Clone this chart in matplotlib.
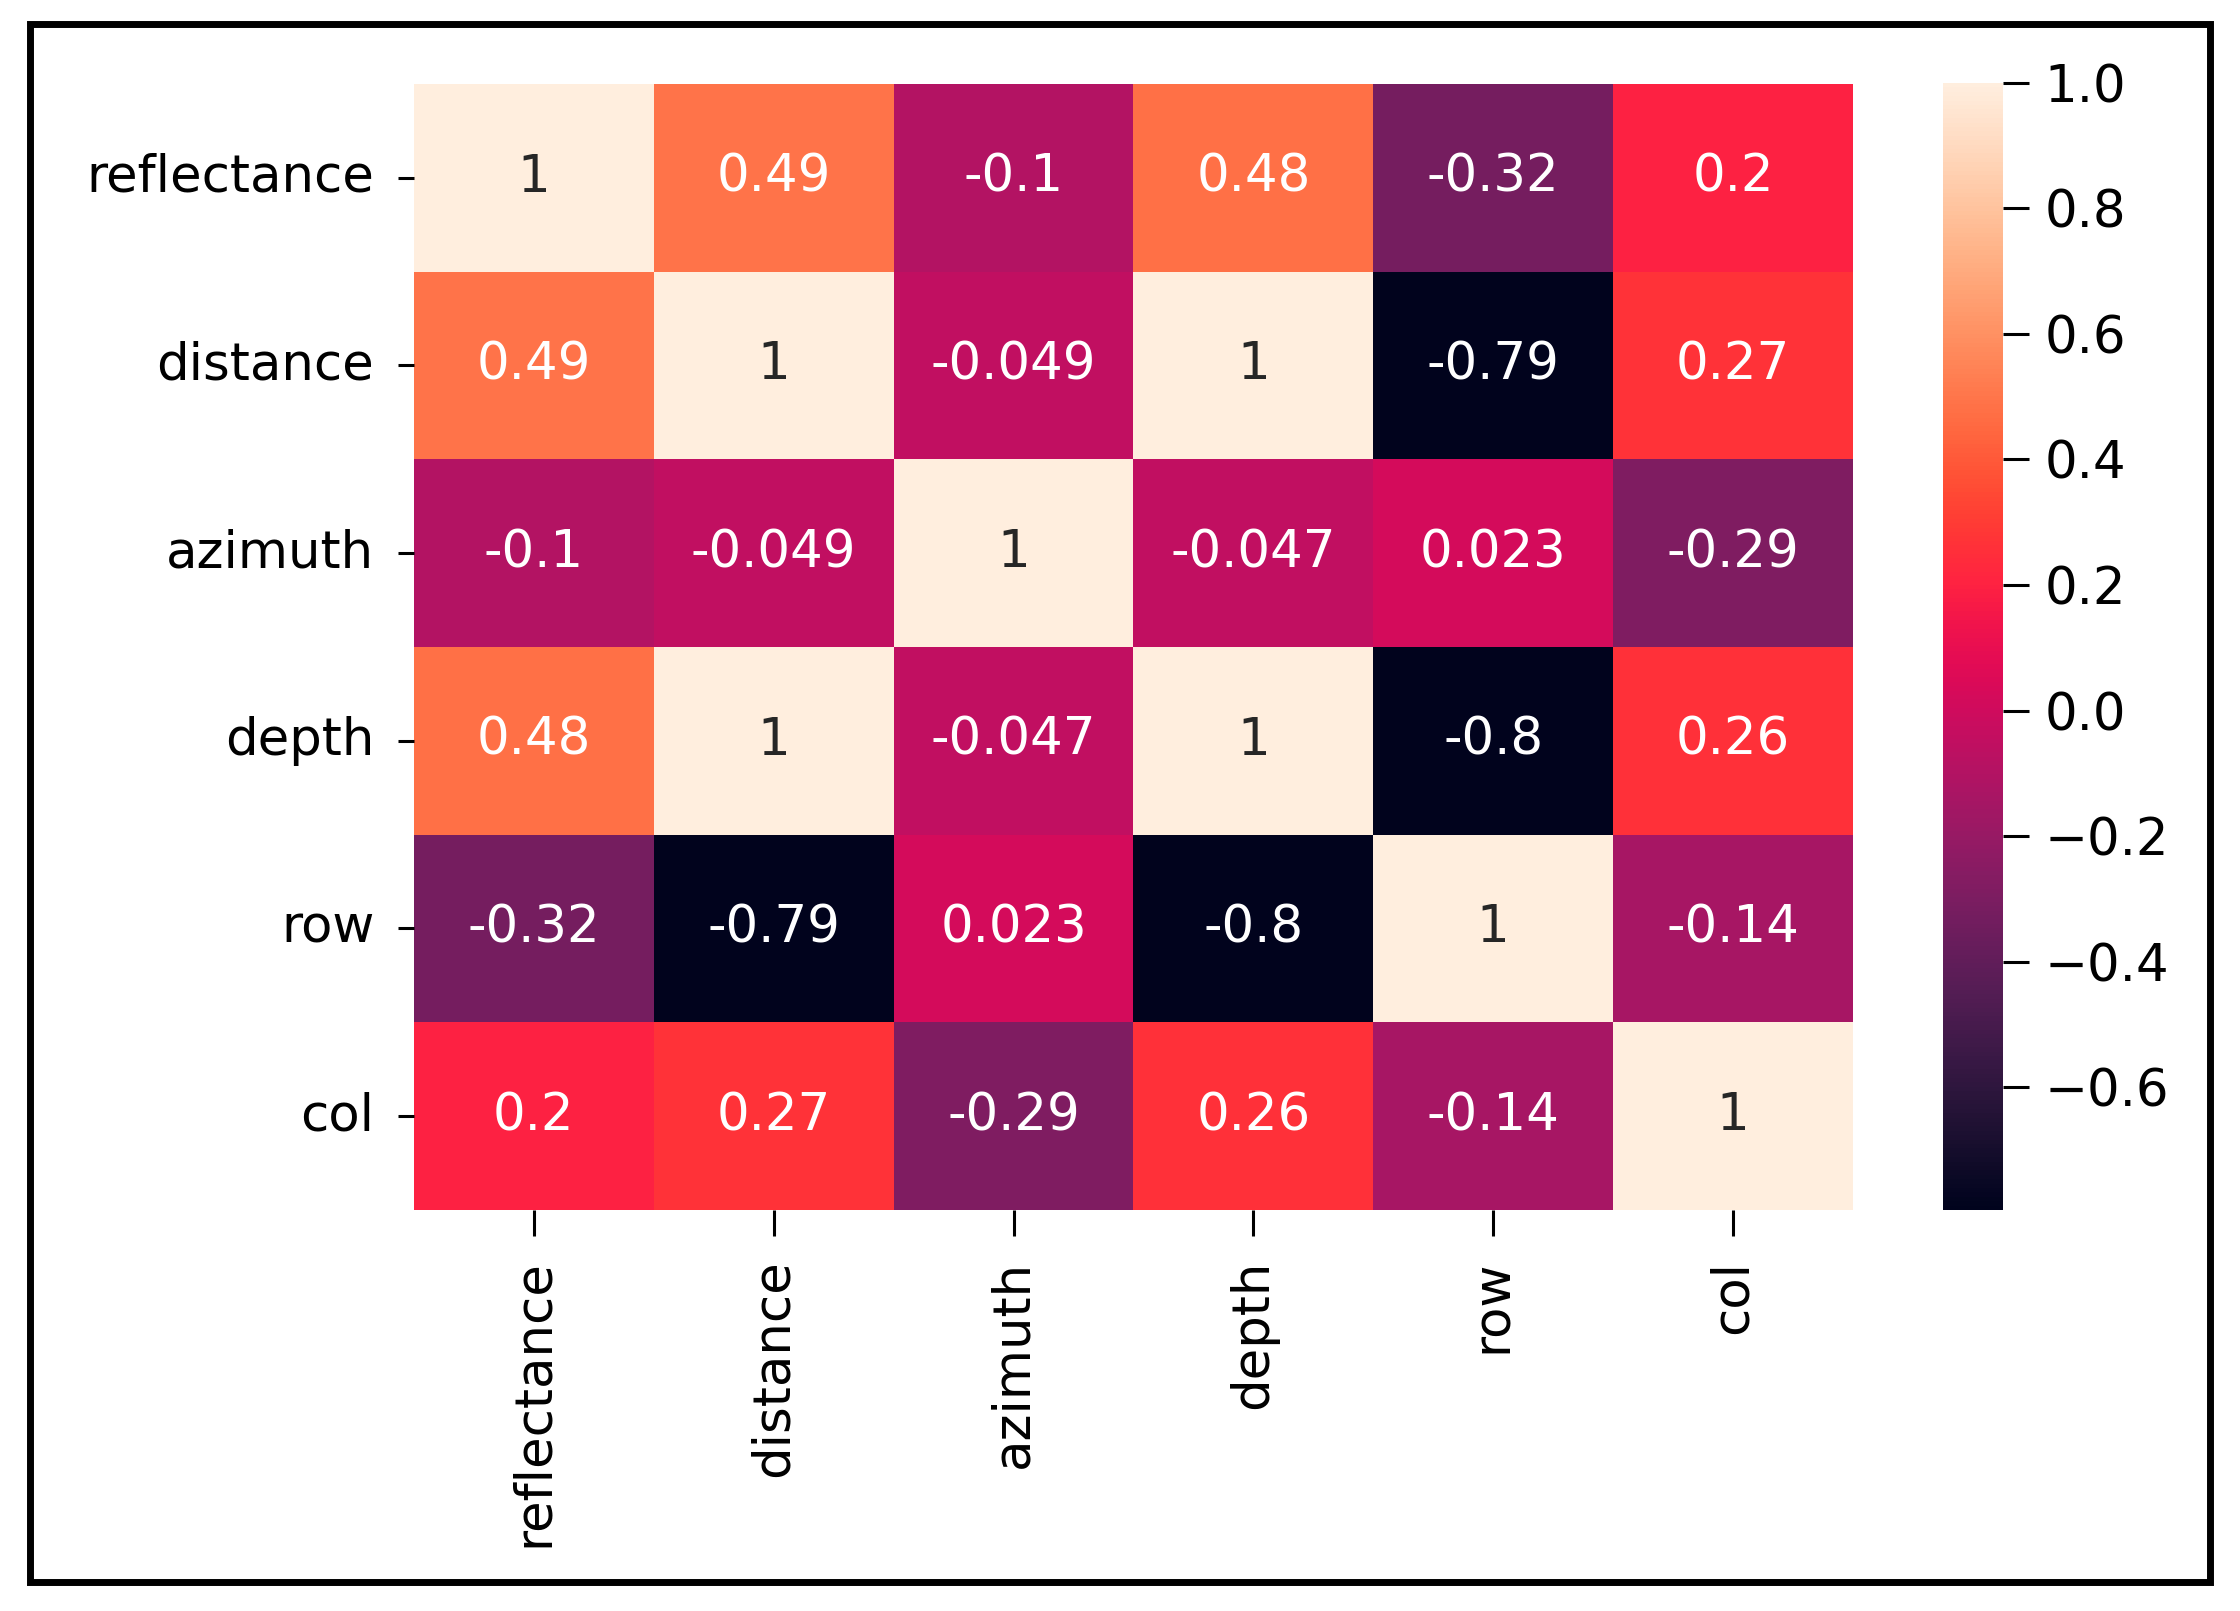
import matplotlib
matplotlib.use("Agg")
import matplotlib.pyplot as plt
import numpy as np
import pandas as pd
import seaborn as sns
from matplotlib.patches import Rectangle
from matplotlib.colors import ListedColormap, rgb_to_hsv, hsv_to_rgb

labels = ["reflectance", "distance", "azimuth", "depth", "row", "col"]
reflectance = [1, 0.49, -0.1, 0.48, -0.32, 0.2]
distance = [0.49, 1, -0.049, 1, -0.79, 0.27]
azimuth = [-0.1, -0.049, 1, -0.047, 0.023, -0.29]
depth = [0.48, 1, -0.047, 1, -0.796, 0.26]
row = [-0.32, -0.79, 0.023, -0.796, 1, -0.14]
col = [0.2, 0.27, -0.29, 0.26, -0.14, 1]

corr = pd.DataFrame([reflectance, distance, azimuth, depth, row, col],
                    index=labels, columns=labels)

# rocket palette, slightly more vivid as in the reference picture
rocket = sns.color_palette("rocket", as_cmap=True)
rgb = rocket(np.linspace(0, 1, 256))[:, :3]
hsv = rgb_to_hsv(rgb)
hsv[:, 1] = np.clip(hsv[:, 1] * 1.08, 0, 1)
hsv[:, 2] = np.clip(hsv[:, 2] * 1.15, 0, 1)
cmap = ListedColormap(hsv_to_rgb(hsv))

plt.rcParams['font.family'] = ['DejaVu Sans']
FS = 37

fig = plt.figure(figsize=(22.4, 16.11), dpi=100)
ax = fig.add_axes([0.1848, 0.2489, 0.6424, 0.699])
cax = fig.add_axes([0.8674, 0.2489, 0.0268, 0.6996])

sns.heatmap(corr, annot=True, ax=ax, cbar_ax=cax, cmap=cmap,
            annot_kws={"fontsize": FS})

ax.set_xticklabels(labels, rotation=90, fontsize=FS)
ax.set_yticklabels(labels, rotation=0, fontsize=FS)
ax.tick_params(axis='x', length=18.7, width=2.2, pad=17)
ax.tick_params(axis='y', length=11.5, width=2.2, pad=17)
cax.tick_params(labelsize=FS, length=18.7, width=2.2, pad=11)

fig.patches.append(Rectangle((0.0136, 0.0177), 0.9868 - 0.0136, 0.9854 - 0.0177,
                             transform=fig.transFigure, fill=False,
                             edgecolor='black', linewidth=5.0, zorder=10))

fig.savefig("out.png", dpi=100)
